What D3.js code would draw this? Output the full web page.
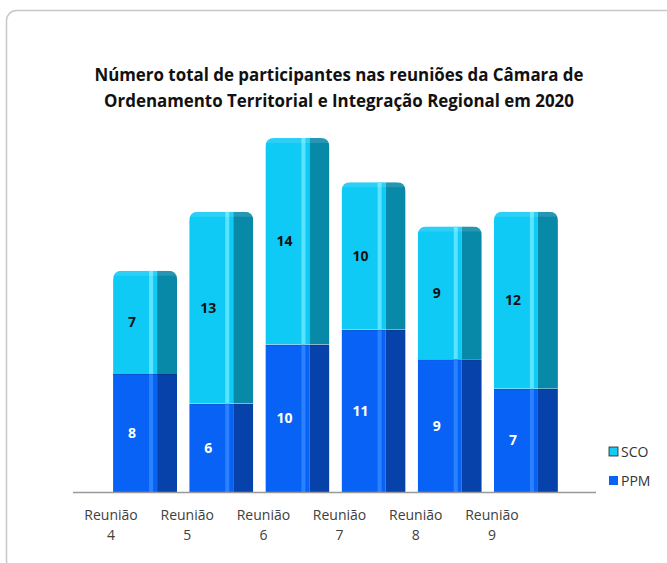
<!DOCTYPE html>
<html lang="pt">
<head>
<meta charset="UTF-8">
<script src="https://d3js.org/d3.v7.min.js"></script>
<style>
  body { margin: 0; background: #fff; font-family: "Open Sans", "Noto Sans", sans-serif; }
  svg { display: block; }
</style>
</head>
<body>
<svg id="chart" width="667" height="563"></svg>
<script>
const categories = ["Reunião 4", "Reunião 5", "Reunião 6", "Reunião 7", "Reunião 8", "Reunião 9"];
const ppm = [8, 6, 10, 11, 9, 7];
const sco = [7, 13, 14, 10, 9, 12];
const seriesNames = ["PPM", "SCO"];
const titleLines = [
  "Número total de participantes nas reuniões da Câmara de",
  "Ordenamento Territorial e Integração Regional em 2020"
];

const width = 667, height = 563;
const baseY = 492;

const palette = {
  PPM: { front: "#0862f5", stripe: "#2a82ff", side: "#0642aa", legend: "#0a62f2" },
  SCO: { front: "#0fcaf5", stripe: "#5ae4ff", side: "#0889a8", legend: "#14cbf3" }
};

const svg = d3.select("#chart");

// card border
svg.append("rect")
  .attr("x", 6.5).attr("y", 10.5)
  .attr("width", 670).attr("height", 560)
  .attr("rx", 10)
  .attr("fill", "#fff")
  .attr("stroke", "#c8c8c8")
  .attr("stroke-width", 1.5);

// title
svg.append("text")
  .attr("x", 339).attr("y", 81)
  .attr("text-anchor", "middle")
  .attr("font-weight", "bold")
  .attr("font-size", 16.9)
  .attr("fill", "#111")
  .selectAll("tspan")
  .data(titleLines)
  .join("tspan")
  .attr("x", 339)
  .attr("dy", (d, i) => i === 0 ? 0 : 26)
  .text(d => d);

const x = d3.scaleBand().domain(categories).range([73, 530]).padding(0);
const y = d3.scaleLinear().domain([0, 24]).range([baseY, 138]);

const frontW = 44, sideW = 20, off = 2;

const rows = categories.map((c, i) => ({ cat: c, PPM: ppm[i], SCO: sco[i] }));
const stacked = d3.stack().keys(seriesNames)(rows);

const g = svg.append("g");

stacked.forEach(layer => {
  const key = layer.key;
  const col = palette[key];
  const isTop = key === "SCO";
  layer.forEach(d => {
    const x0 = x(d.data.cat) + x.bandwidth() / 2 + off;
    const yTop = y(d[1]);
    const yBot = y(d[0]);
    const w = frontW + sideW;
    const r = isTop ? 9 : 0;
    const path = d3.path();
    path.moveTo(x0, yBot);
    path.lineTo(x0, yTop + r);
    if (r) path.quadraticCurveTo(x0, yTop, x0 + r, yTop);
    path.lineTo(x0 + w - r, yTop);
    if (r) path.quadraticCurveTo(x0 + w, yTop, x0 + w, yTop + r);
    path.lineTo(x0 + w, yBot);
    path.closePath();
    const clipId = "c-" + key + "-" + d.data.cat.replace(/\W/g, "");
    g.append("clipPath").attr("id", clipId).append("path").attr("d", path.toString());
    const bar = g.append("g").attr("clip-path", `url(#${clipId})`);
    bar.append("rect").attr("x", x0).attr("y", yTop).attr("width", frontW).attr("height", yBot - yTop).attr("fill", col.front);
    bar.append("rect").attr("x", x0 + frontW - 8).attr("y", yTop).attr("width", 4).attr("height", yBot - yTop).attr("fill", col.stripe);
    bar.append("rect").attr("x", x0 + frontW).attr("y", yTop).attr("width", sideW).attr("height", yBot - yTop).attr("fill", col.side);
    if (isTop) {
      bar.append("rect").attr("x", x0).attr("y", yTop).attr("width", w).attr("height", 5).attr("fill", "#fff").attr("opacity", 0.12);
    } else {
      bar.append("rect").attr("x", x0).attr("y", yTop).attr("width", w).attr("height", 1).attr("fill", "#000").attr("opacity", 0.15);
    }
    g.append("text")
      .attr("x", x0 + 19)
      .attr("y", (yTop + yBot) / 2 + 5)
      .attr("text-anchor", "middle")
      .attr("font-weight", "bold")
      .attr("font-size", 14)
      .attr("fill", key === "PPM" ? "#fff" : "#111")
      .text(d.data[key]);
  });
});

// axis line
svg.append("line")
  .attr("x1", 73).attr("x2", 596)
  .attr("y1", baseY + 0.5).attr("y2", baseY + 0.5)
  .attr("stroke", "#999").attr("stroke-width", 1.5);

// category labels (two lines)
const labels = svg.append("g")
  .attr("font-size", 14)
  .attr("fill", "#404040")
  .attr("text-anchor", "middle");
categories.forEach(c => {
  const parts = c.split(" ");
  const cx = x(c) + x.bandwidth() / 2;
  const t = labels.append("text").attr("x", cx).attr("y", 520);
  t.append("tspan").attr("x", cx).text(parts[0]);
  t.append("tspan").attr("x", cx).attr("dy", 20).text(parts[1]);
});

// legend
const legend = svg.append("g").attr("font-size", 14).attr("fill", "#333");
["SCO", "PPM"].forEach((k, i) => {
  const ly = 452 + i * 29;
  legend.append("rect").attr("x", 609).attr("y", ly - 5).attr("width", 9).attr("height", 9)
    .attr("fill", palette[k].legend).attr("stroke", k === "SCO" ? "#222" : "none").attr("stroke-width", 0.8);
  legend.append("text").attr("x", 621).attr("y", ly + 5).text(k);
});
</script>
</body>
</html>
